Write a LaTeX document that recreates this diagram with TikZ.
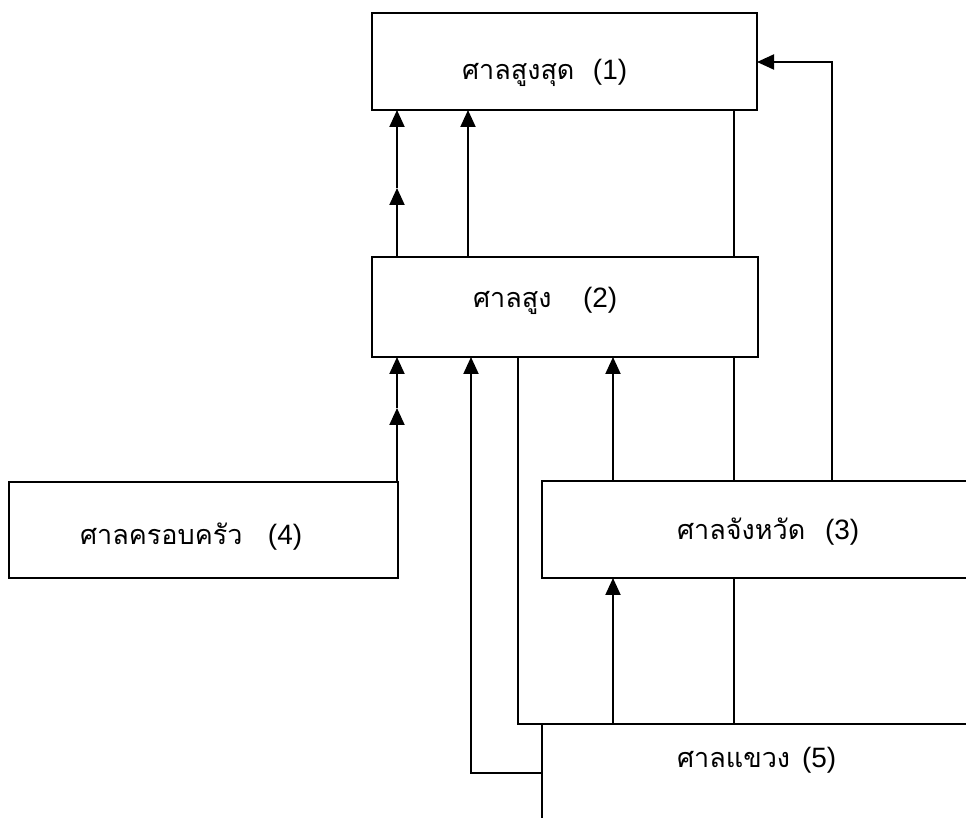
\documentclass[tikz,border=0pt]{standalone}
\usepackage{fontspec}
\setmainfont{Liberation Sans}
\newfontfamily\thaifont[Script=Thai]{Loma}
\usetikzlibrary{arrows.meta,fit}
\newcommand{\thw}[2]{\makebox[#1][l]{\fontsize{13.5pt}{16pt}\thaifont #2}}
\tikzset{
  box/.style={draw, line width=1pt, inner sep=0pt, outer sep=0pt},
  ln/.style={line width=1pt},
  arr/.style={line width=1pt, -{Triangle[width=7.5pt,length=8.5pt]}},
  lbl/.style={anchor=base west, inner sep=0pt, outer sep=0pt, font=\fontsize{14pt}{17pt}\selectfont}
}
\begin{document}
\begin{tikzpicture}[x=0.5pt,y=-0.5pt]
\useasboundingbox (0,0) rectangle (966,818);
\clip (0,0) rectangle (966,818);
% boxes
\node[box, fit={(372,13) (757,110)}] (b1) {};
\node[box, fit={(372,257) (758,357)}] (b2) {};
\node[box, fit={(542,481) (990,578)}] (b3) {};
\node[box, fit={(9,482) (398,578)}] (b4) {};
\node[box, fit={(542,724) (975,830)}] (b5) {};
% labels
\node[lbl] (t1) at (462,80) {\thw{65.5pt}{ศาลสูงสุด}(1)};
\node[lbl] (t2) at (473,308) {\thw{55pt}{ศาลสูง}(2)};
\node[lbl] (t3) at (677,540) {\thw{74pt}{ศาลจังหวัด}(3)};
\node[lbl] (t4) at (80,545) {\thw{94pt}{ศาลครอบครัว}(4)};
\node[lbl] (t5) at (677,768) {\thw{62.5pt}{ศาลแขวง}(5)};
% guide coordinates
\coordinate (xa) at (397,0);
\coordinate (xb) at (468,0);
\coordinate (xc) at (471,0);
\coordinate (xd) at (518,0);
\coordinate (xe) at (613,0);
\coordinate (xf) at (734,0);
\coordinate (xg) at (832,0);
\coordinate (ya) at (0,62);
\coordinate (yb) at (0,773);
\coordinate (m1) at (397,408);
\coordinate (m2) at (397,188);
% connectors
\draw[arr] (xa |- b4.north) -- (m1);
\draw[arr] (m1) -- (xa |- b2.south);
\draw[arr] (xa |- b2.north) -- (m2);
\draw[arr] (m2) -- (xa |- b1.south);
\draw[arr] (xb |- b2.north) -- (xb |- b1.south);
\draw[ln] (xf |- b5.north) -- (xf |- b3.south);
\draw[ln] (xf |- b3.north) -- (xf |- b2.south);
\draw[ln] (xf |- b2.north) -- (xf |- b1.south);
\draw[arr] (xe |- b5.north) -- (xe |- b3.south);
\draw[arr] (xe |- b3.north) -- (xe |- b2.south);
\draw[arr] (xg |- b3.north) -- (xg |- ya) -- (b1.east |- ya);
\draw[ln] (xd |- b2.south) -- (xd |- b5.north) -- (b5.north west);
\draw[arr] (b5.west |- yb) -- (xc |- yb) -- (xc |- b2.south);
\end{tikzpicture}
\end{document}
